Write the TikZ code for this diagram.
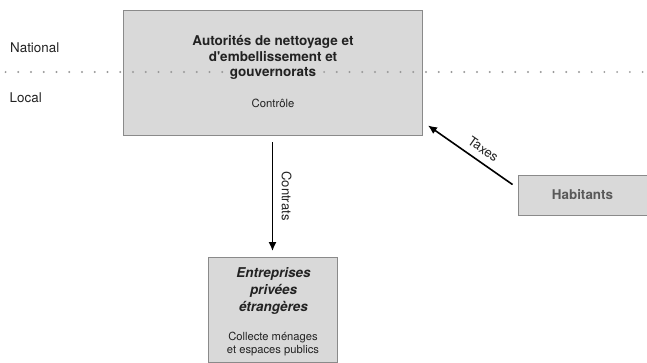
\documentclass[tikz,border=0pt]{standalone}
\usepackage{fontspec}
\setmainfont{TeX Gyre Heros}
\usetikzlibrary{arrows.meta}
\definecolor{boxgray}{HTML}{D9D9D9}
\definecolor{edgegray}{HTML}{8A8A8A}
\definecolor{inkgray}{HTML}{222222}
\begin{document}
\begin{tikzpicture}[x=1pt,y=-1pt,
  box/.style={rectangle,draw=edgegray,line width=0.9pt,fill=boxgray,inner sep=0pt},
  txt/.style={text=inkgray,align=center,inner sep=0pt},
  arr/.style={-{Latex[length=9pt,width=8pt]},line width=1.6pt,draw=black},
  dotline/.style={draw=gray!80,line width=2.2pt,line cap=round,dash pattern=on 0pt off 12.74pt}]
\useasboundingbox (0,0) rectangle (647,362);

\node[box,minimum width=299,minimum height=125] (auto) at (272.5,72.5) {};
\node[box,minimum width=129,minimum height=105] (entr) at (272.5,309.5) {};
\node[box,minimum width=129,minimum height=40] (hab) at (582.5,195) {};

\draw[dotline] (5.6,72) -- (643,72);

\node[txt,anchor=west,font=\fontsize{13.4}{15}\selectfont] (national) at (10,48) {National};
\node[txt,anchor=west,font=\fontsize{13.4}{15}\selectfont] (local) at (9.5,98) {Local};

\node[txt,font=\fontsize{13.5}{15.5}\selectfont\bfseries] (autotitle) at (273,57.5) {Autorités de nettoyage et\\d\textquotesingle embellissement et\\gouvernorats};
\node[txt,font=\fontsize{11.3}{13}\selectfont] (controle) at (273,103) {Contrôle};

\node[txt,font=\fontsize{13.5}{16.8}\selectfont\bfseries\itshape] (entrtitle) at (273.5,291) {Entreprises\\privées\\étrangères};
\node[txt,font=\fontsize{11.2}{12.5}\selectfont] (collecte) at (273,344) {Collecte ménages\\et espaces publics};

\node[txt,text=black!65,font=\fontsize{13.4}{15}\selectfont\bfseries] (habtitle) at (hab) {Habitants};

\draw[arr,shorten <=7pt,shorten >=5.5pt] (auto) -- (entr)
  node[midway,sloped,above=5pt,font=\fontsize{13}{15}\selectfont,text=inkgray] (contrats) {Contrats};
\draw[arr] ([shift={(-5,10)}]hab.north west) -- ([shift={(5.5,-10)}]auto.south east)
  node[pos=0.43,sloped,above=3.5pt,font=\fontsize{13}{15}\selectfont,text=inkgray] (taxes) {Taxes};
\end{tikzpicture}
\end{document}
